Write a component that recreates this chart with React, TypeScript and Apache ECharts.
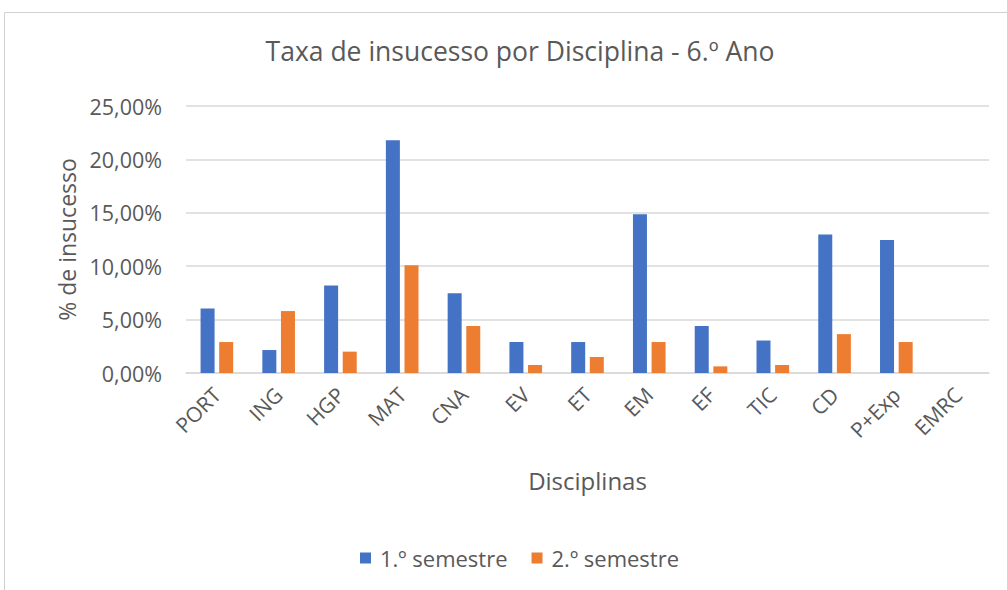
import React, { useEffect, useRef } from "react";
import * as echarts from "echarts";

const categories = ["PORT", "ING", "HGP", "MAT", "CNA", "EV", "ET", "EM", "EF", "TIC", "CD", "P+Exp", "EMRC"];
const sem1 = [6.03, 2.15, 8.2, 21.8, 7.46, 2.9, 2.9, 14.86, 4.4, 3.04, 12.97, 12.46, 0];
const sem2 = [2.9, 5.8, 2.0, 10.1, 4.4, 0.75, 1.5, 2.9, 0.62, 0.75, 3.64, 2.9, 0];
const seriesNames = ["1.º semestre", "2.º semestre"];
const yTicks = [0, 5, 10, 15, 20, 25];

const FONT = "'Open Sans', 'Noto Sans', sans-serif";
const GRAY = "#595959";

export default function App() {
  const ref = useRef<HTMLDivElement>(null);
  useEffect(() => {
    if (!ref.current) return;
    const chart = echarts.init(ref.current, null, { renderer: "svg" });
    chart.setOption({
      animation: false,
      backgroundColor: "#ffffff",
      textStyle: { fontFamily: FONT },
      graphic: [
        {
          type: "rect",
          shape: { x: 4.5, y: 12.5, width: 1010, height: 600 },
          style: { fill: "none", stroke: "#d0d0d0", lineWidth: 1 },
          silent: true,
        },
      ],
      title: {
        text: "Taxa de insucesso por Disciplina - 6.º Ano",
        left: 515,
        top: 32,
        textAlign: "center",
        textStyle: { fontFamily: FONT, fontSize: 26.5, fontWeight: "normal", color: GRAY },
      },
      legend: {
        data: seriesNames,
        left: 355,
        top: 542,
        itemWidth: 11,
        itemHeight: 11,
        itemGap: 24,
        icon: "rect",
        textStyle: { fontFamily: FONT, fontSize: 22, color: GRAY, padding: [0, 0, 0, 4] },
      },
      grid: { left: 186, right: 18, top: 106, bottom: 217, containLabel: false },
      xAxis: {
        type: "category",
        data: categories,
        name: "Disciplinas",
        nameLocation: "middle",
        nameGap: 95,
        nameTextStyle: { fontFamily: FONT, fontSize: 24, color: GRAY },
        axisLine: { show: true, lineStyle: { color: "#d9d9d9", width: 1.5 } },
        axisTick: { show: false },
        axisLabel: { rotate: 45, margin: 18, fontFamily: FONT, fontSize: 21, color: GRAY, interval: 0 },
      },
      yAxis: {
        type: "value",
        min: yTicks[0],
        max: yTicks[yTicks.length - 1],
        interval: 5,
        name: "% de insucesso",
        nameLocation: "middle",
        nameGap: 108,
        nameTextStyle: { fontFamily: FONT, fontSize: 23, color: GRAY },
        axisLine: { show: false },
        axisTick: { show: false },
        splitLine: { lineStyle: { color: "#d9d9d9", width: 1.5 } },
        axisLabel: {
          margin: 24,
          fontFamily: FONT,
          fontSize: 21.5,
          color: GRAY,
          formatter: (v: number) => v.toFixed(2).replace(".", ",") + "%",
        },
      },
      series: [
        {
          name: seriesNames[0],
          type: "bar",
          data: sem1,
          barWidth: 14,
          barGap: "33%",
          itemStyle: { color: "#4472C4" },
        },
        {
          name: seriesNames[1],
          type: "bar",
          data: sem2,
          barWidth: 14,
          itemStyle: { color: "#ED7D31" },
        },
      ],
    });
    return () => chart.dispose();
  }, []);
  return <div ref={ref} style={{ position: "fixed", left: 0, top: 0, width: 1007, height: 590 }} />;
}
